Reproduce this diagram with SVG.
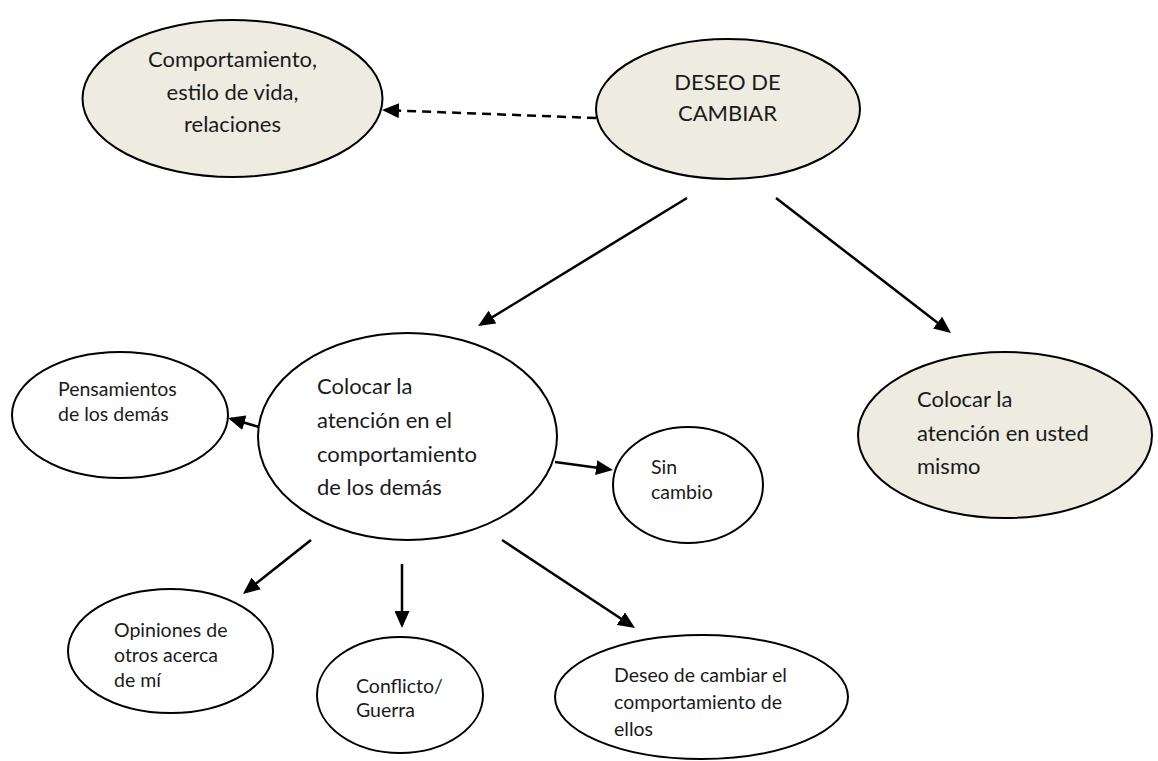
<svg xmlns="http://www.w3.org/2000/svg" width="1158" height="761" viewBox="0 0 1158 761">
<style>
.bg{fill:#ffffff}
.node{stroke:#000;stroke-width:2;fill:#ffffff}
.shaded{fill:#EEECE1}
.t{font-family:"Lato","Open Sans",sans-serif;fill:#1a1a1a}
.big{font-size:22px}
.small{font-size:19.5px}
.mid{text-anchor:middle}
.conn{stroke:#000;stroke-width:2.5;fill:none}
.dash{stroke-dasharray:9 6}
</style>
<defs>
<marker id="ah" markerUnits="userSpaceOnUse" markerWidth="17" markerHeight="15" refX="14" refY="7.5" orient="auto">
<path d="M0,0 L17,7.5 L0,15 z" fill="#000" stroke="none"/>
</marker>
</defs>
<rect class="bg" x="0" y="0" width="1158" height="761"/>
<g id="connectors">
<line class="conn dash" x1="596" y1="118" x2="385" y2="110.1" marker-end="url(#ah)"/>
<line class="conn" x1="687" y1="198" x2="480.6" y2="324.4" marker-end="url(#ah)"/>
<line class="conn" x1="776" y1="198" x2="948.6" y2="331.2" marker-end="url(#ah)"/>
<line class="conn" x1="259" y1="427" x2="230.9" y2="418.8" marker-end="url(#ah)"/>
<line class="conn" x1="555" y1="462" x2="610" y2="469.6" marker-end="url(#ah)"/>
<line class="conn" x1="311" y1="540" x2="245.3" y2="592.1" marker-end="url(#ah)"/>
<line class="conn" x1="402" y1="564" x2="402" y2="625" marker-end="url(#ah)"/>
<line class="conn" x1="502" y1="540" x2="632.5" y2="626.3" marker-end="url(#ah)"/>
</g>
<g id="n-comportamiento">
<ellipse class="node shaded" cx="232.5" cy="98.5" rx="150" ry="78.5"/>
<text class="t big mid" x="232.5" y="67">Comportamiento,</text>
<text class="t big mid" x="232.5" y="99.5">estilo de vida,</text>
<text class="t big mid" x="232.5" y="132">relaciones</text>
</g>
<g id="n-deseo-cambiar">
<ellipse class="node shaded" cx="728" cy="109" rx="132" ry="70"/>
<text class="t big mid" x="727.5" y="90">DESEO DE</text>
<text class="t big mid" x="727.5" y="121">CAMBIAR</text>
</g>
<g id="n-atencion-demas">
<ellipse class="node" cx="407.5" cy="436.5" rx="149.5" ry="103.5"/>
<text class="t big" x="317" y="394">Colocar la</text>
<text class="t big" x="317" y="428">atención en el</text>
<text class="t big" x="317" y="462">comportamiento</text>
<text class="t big" x="317" y="495">de los demás</text>
</g>
<g id="n-atencion-usted">
<ellipse class="node shaded" cx="1005" cy="435" rx="147" ry="83"/>
<text class="t big" x="917" y="407">Colocar la</text>
<text class="t big" x="917" y="441">atención en usted</text>
<text class="t big" x="917" y="474">mismo</text>
</g>
<g id="n-pensamientos">
<ellipse class="node" cx="120" cy="415" rx="108" ry="63"/>
<text class="t small" x="58" y="396">Pensamientos</text>
<text class="t small" x="58" y="421">de los demás</text>
</g>
<g id="n-sin-cambio">
<ellipse class="node" cx="688" cy="485" rx="75" ry="58"/>
<text class="t small" x="651" y="474">Sin</text>
<text class="t small" x="651" y="499">cambio</text>
</g>
<g id="n-opiniones">
<ellipse class="node" cx="170.5" cy="651" rx="102.5" ry="62"/>
<text class="t small" x="114" y="637">Opiniones de</text>
<text class="t small" x="114" y="662">otros acerca</text>
<text class="t small" x="114" y="687">de mí</text>
</g>
<g id="n-conflicto">
<ellipse class="node" cx="400" cy="695" rx="83" ry="58"/>
<text class="t small" x="356" y="693">Conflicto/</text>
<text class="t small" x="356" y="717">Guerra</text>
</g>
<g id="n-deseo-ellos">
<ellipse class="node" cx="701.5" cy="697" rx="146.5" ry="62"/>
<text class="t small" x="614" y="682">Deseo de cambiar el</text>
<text class="t small" x="614" y="709">comportamiento de</text>
<text class="t small" x="614" y="736">ellos</text>
</g>
</svg>
